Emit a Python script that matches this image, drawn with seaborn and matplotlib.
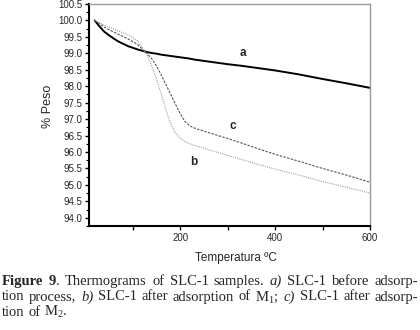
import matplotlib
matplotlib.use("Agg")
import matplotlib.pyplot as plt
from matplotlib.ticker import MultipleLocator, FixedLocator
from matplotlib.transforms import IdentityTransform
import seaborn as sns
import pandas as pd

# ---------------- data ----------------
temperature = [20, 30, 40, 50, 60, 70, 80, 90, 100, 110, 120, 130, 140, 150, 160,
               170, 180, 190, 200, 210, 220, 230, 240, 260, 280, 300, 330, 360,
               400, 450, 500, 550, 600]
peso_a = [100.0, 99.82, 99.66, 99.55, 99.45, 99.36, 99.29, 99.22, 99.17, 99.12,
          99.08, 99.04, 99.01, 98.99, 98.96, 98.94, 98.92, 98.90, 98.88, 98.86,
          98.84, 98.81, 98.79, 98.75, 98.71, 98.67, 98.62, 98.56, 98.48, 98.36,
          98.22, 98.09, 97.95]
peso_b = [100.0, 99.93, 99.86, 99.80, 99.74, 99.68, 99.62, 99.56, 99.49, 99.38,
          99.18, 98.95, 98.62, 98.23, 97.77, 97.28, 96.86, 96.58, 96.42, 96.32,
          96.25, 96.20, 96.16, 96.07, 95.98, 95.90, 95.77, 95.64, 95.48, 95.30,
          95.10, 94.93, 94.75]
peso_c = [100.0, 99.90, 99.80, 99.72, 99.65, 99.58, 99.51, 99.44, 99.36, 99.27,
          99.14, 99.00, 98.84, 98.62, 98.35, 98.05, 97.76, 97.46, 97.17, 96.93,
          96.80, 96.73, 96.68, 96.59, 96.50, 96.41, 96.27, 96.12, 95.93, 95.72,
          95.50, 95.30, 95.08]
curve_labels = ["a", "b", "c"]
label_pos_t = [332, 229, 312]
label_pos_v = [99.0, 95.7, 96.79]
x_major_ticks = [200, 400, 600]
x_minor_ticks = [100, 300, 500]
x_label = "Temperatura ºC"
y_label = "% Peso"

caption_lines = [
    [[("Figure", "bold", "normal")], [("9", "bold", "normal"), (".", "normal", "normal")],
     [("Thermograms", "normal", "normal")], [("of", "normal", "normal")],
     [("SLC-1", "normal", "normal")], [("samples.", "normal", "normal")],
     [("a)", "normal", "italic")], [("SLC-1", "normal", "normal")],
     [("before", "normal", "normal")], [("adsorp-", "normal", "normal")]],
    [[("tion", "normal", "normal")], [("process,", "normal", "normal")],
     [("b)", "normal", "italic")], [("SLC-1", "normal", "normal")],
     [("after", "normal", "normal")], [("adsorption", "normal", "normal")],
     [("of", "normal", "normal")], [(r"$\mathrm{M}_1$;", "normal", "normal")],
     [("c)", "normal", "italic")], [("SLC-1", "normal", "normal")],
     [("after", "normal", "normal")], [("adsorp-", "normal", "normal")]],
    [[("tion", "normal", "normal")], [("of", "normal", "normal")],
     [(r"$\mathrm{M}_2$.", "normal", "normal")]],
]

# ---------------- style ----------------
sns.set_theme(style="ticks")
plt.rcParams["font.family"] = ["Liberation Sans Narrow", "Liberation Sans", "DejaVu Sans"]
plt.rcParams["mathtext.fontset"] = "custom"
plt.rcParams["mathtext.rm"] = "Liberation Serif"
plt.rcParams["mathtext.it"] = "Liberation Serif:italic"
plt.rcParams["mathtext.bf"] = "Liberation Serif:bold"

W, H = 420, 330
fig = plt.figure(figsize=(W / 100, H / 100), dpi=100)
ax = fig.add_axes([89 / W, 1 - 226 / H, (370 - 89) / W, (226 - 4) / H])

df = pd.DataFrame({"T": temperature, "a": peso_a, "b": peso_b, "c": peso_c})
sns.lineplot(data=df, x="T", y="a", ax=ax, color="black", linewidth=1.4)
sns.lineplot(data=df, x="T", y="c", ax=ax, color="#555555", linewidth=0.8,
             linestyle=(0, (2.2, 1.2)))
sns.lineplot(data=df, x="T", y="b", ax=ax, color="#a0a0a0", linewidth=0.8,
             linestyle=(0, (1.0, 1.0)))

for lab, t, v in zip(curve_labels, label_pos_t, label_pos_v):
    ax.text(t, v, lab, fontsize=8.5, fontweight="bold", ha="center", va="center",
            family=["Liberation Sans", "DejaVu Sans"])

ax.set_xlim(8, 600)
ax.set_ylim(93.75, 100.5)
ax.xaxis.set_major_locator(FixedLocator(x_major_ticks))
ax.xaxis.set_minor_locator(FixedLocator(x_minor_ticks))
ax.yaxis.set_major_locator(MultipleLocator(0.5))
ax.yaxis.set_minor_locator(MultipleLocator(0.25))
ax.yaxis.set_major_formatter(matplotlib.ticker.FormatStrFormatter("%.1f"))

ax.set_xlabel(x_label, fontsize=8.5)
ax.set_ylabel(y_label, fontsize=9)
ax.xaxis.set_label_coords(0.523, -0.115)
ax.yaxis.set_label_coords(-0.125, 0.54)

for s in ["left", "bottom"]:
    ax.spines[s].set_color("black")
    ax.spines[s].set_linewidth(1.5)
for s in ["top", "right"]:
    ax.spines[s].set_visible(True)
    ax.spines[s].set_color("#9a9a9a")
    ax.spines[s].set_linewidth(1.0)

ax.tick_params(axis="both", which="major", direction="out", length=3, width=1.0,
               labelsize=7, color="black", pad=2)
ax.tick_params(axis="y", which="minor", direction="out", length=2, width=0.8, color="black")
ax.tick_params(axis="x", which="minor", direction="out", length=3, width=1.0, color="black")

# ---------------- caption ----------------
CAP_SIZE = 10.5
renderer = fig.canvas.get_renderer()


def piece_text(x, y, s, weight, style):
    return fig.text(x, y, s, transform=IdentityTransform(), fontsize=CAP_SIZE,
                    family=["Liberation Serif", "DejaVu Serif"], fontweight=weight,
                    fontstyle=style, ha="left", va="baseline")


def width_of(s, weight, style):
    t = piece_text(0, 0, s, weight, style)
    w = t.get_window_extent(renderer).width
    t.remove()
    return w


space_w = width_of("a a", "normal", "normal") - width_of("aa", "normal", "normal")


def draw_line(words, y_top, justify, x0=2, x1=418):
    y = H - y_top
    word_w = [sum(width_of(p[0], p[1], p[2]) for p in wd) for wd in words]
    gap = (x1 - x0 - sum(word_w)) / (len(words) - 1) if justify else space_w
    x = x0
    for wd, ww in zip(words, word_w):
        xx = x
        for s, wt, st in wd:
            piece_text(xx, y, s, wt, st)
            xx += width_of(s, wt, st)
        x += ww + gap


draw_line(caption_lines[0], 285, True)
draw_line(caption_lines[1], 300.5, True)
draw_line(caption_lines[2], 316, False)

fig.savefig("out.png", dpi=100)
